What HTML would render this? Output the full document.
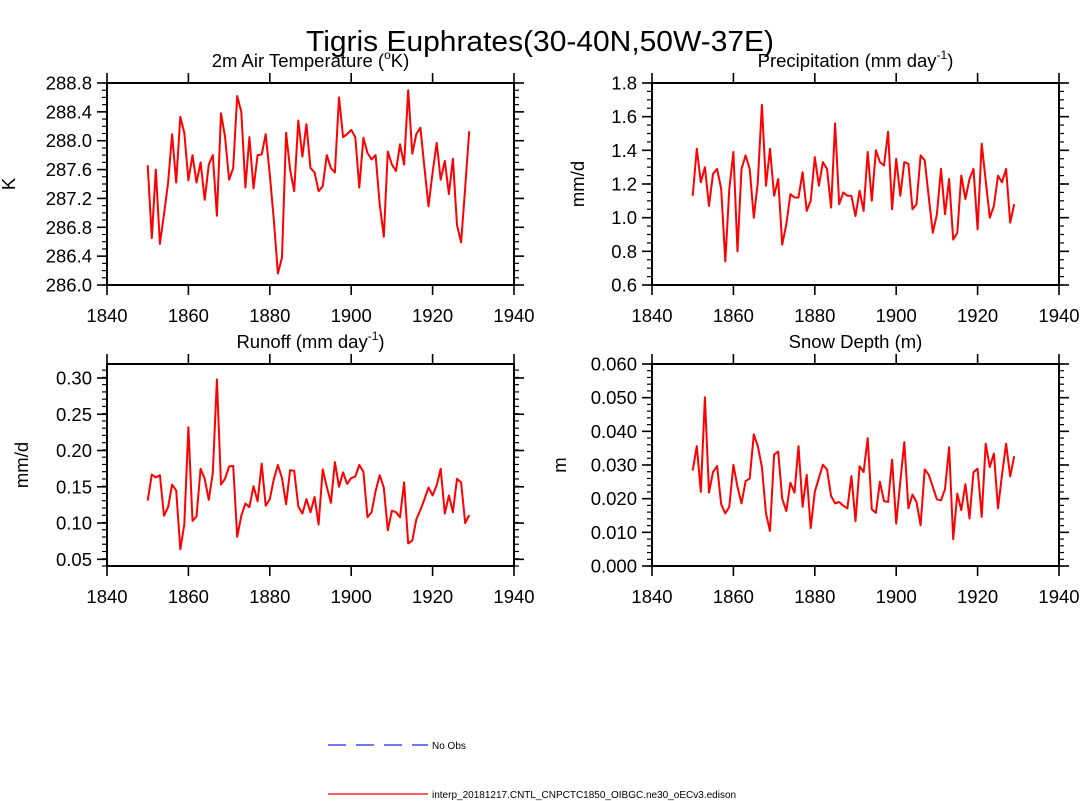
<!DOCTYPE html>
<html><head><meta charset="utf-8"><style>
body{margin:0;background:#fff;}
svg{display:block;font-family:"Liberation Sans",Arial,sans-serif;}
</style></head><body>
<svg id="chart" width="1080" height="801" viewBox="0 0 1080 801">
<text x="540" y="51" font-size="29" text-anchor="middle" textLength="468" lengthAdjust="spacingAndGlyphs">Tigris Euphrates(30-40N,50W-37E)</text>
<g>
<line x1="328" y1="745" x2="428" y2="745" stroke="#2020ff" stroke-width="1.2" stroke-dasharray="18,10"/>
<text x="432" y="749" font-size="10">No Obs</text>
<line x1="328" y1="794" x2="428" y2="794" stroke="#ff0000" stroke-width="1.2"/>
<text x="432" y="798" font-size="10">interp_20181217.CNTL_CNPCTC1850_OIBGC.ne30_oECv3.edison</text>
</g>
</svg>
<script>
const startYear = 1850;
const xTicks = [1840,1860,1880,1900,1920,1940];
const tempVals = [287.66,286.65,287.6,286.57,286.98,287.42,288.09,287.42,288.33,288.11,287.45,287.8,287.42,287.7,287.18,287.67,287.8,286.96,288.38,288.06,287.46,287.62,288.62,288.4,287.35,288.05,287.34,287.8,287.81,288.09,287.53,286.89,286.16,286.38,288.11,287.6,287.3,288.28,287.78,288.23,287.62,287.56,287.3,287.37,287.8,287.62,287.56,288.6,288.05,288.09,288.15,288.05,287.35,288.04,287.83,287.74,287.8,287.12,286.67,287.85,287.67,287.58,287.95,287.67,288.7,287.82,288.09,288.18,287.62,287.09,287.56,287.97,287.46,287.72,287.26,287.75,286.83,286.59,287.35,288.13];
const precVals = [1.13,1.41,1.21,1.3,1.07,1.26,1.29,1.17,0.74,1.17,1.39,0.8,1.29,1.37,1.29,1.0,1.21,1.67,1.19,1.41,1.13,1.23,0.84,0.96,1.14,1.12,1.12,1.27,1.04,1.1,1.36,1.19,1.33,1.29,1.06,1.56,1.08,1.15,1.13,1.13,1.01,1.16,1.04,1.39,1.1,1.4,1.33,1.31,1.51,1.05,1.35,1.13,1.33,1.32,1.05,1.08,1.37,1.34,1.12,0.91,1.02,1.29,1.02,1.23,0.87,0.91,1.25,1.11,1.23,1.29,0.93,1.44,1.22,1.0,1.07,1.25,1.21,1.29,0.97,1.08];
const runoffVals = [0.131,0.167,0.163,0.166,0.11,0.122,0.153,0.145,0.064,0.098,0.232,0.103,0.109,0.175,0.161,0.132,0.169,0.298,0.153,0.161,0.178,0.179,0.081,0.11,0.127,0.122,0.151,0.13,0.182,0.124,0.133,0.161,0.18,0.162,0.126,0.173,0.172,0.123,0.113,0.133,0.115,0.136,0.098,0.174,0.15,0.128,0.184,0.15,0.17,0.154,0.162,0.164,0.18,0.171,0.108,0.115,0.144,0.166,0.149,0.09,0.117,0.115,0.108,0.156,0.072,0.076,0.105,0.118,0.133,0.149,0.138,0.152,0.175,0.113,0.138,0.115,0.161,0.156,0.1,0.111];
const snowVals = [0.0284,0.0356,0.022,0.0501,0.0218,0.0279,0.0297,0.0183,0.0156,0.0176,0.0301,0.0235,0.0186,0.0252,0.026,0.0391,0.0356,0.0294,0.0156,0.0104,0.0331,0.034,0.02,0.0163,0.0247,0.0218,0.0356,0.0176,0.0271,0.0113,0.022,0.0262,0.0301,0.0287,0.0208,0.0186,0.019,0.0179,0.0171,0.0267,0.0133,0.0296,0.0279,0.038,0.0168,0.0158,0.025,0.0193,0.019,0.0316,0.0126,0.025,0.0368,0.0171,0.0212,0.019,0.0121,0.0287,0.0271,0.0235,0.0198,0.0195,0.0228,0.0353,0.008,0.0215,0.0166,0.0243,0.0141,0.0279,0.0289,0.0146,0.0363,0.0294,0.0334,0.0171,0.0271,0.0363,0.0266,0.0326];
const tempTicks = ["286.0","286.4","286.8","287.2","287.6","288.0","288.4","288.8"];
const precTicks = ["0.6","0.8","1.0","1.2","1.4","1.6","1.8"];
const runoffTicks = ["0.05","0.10","0.15","0.20","0.25","0.30"];
const snowTicks = ["0.000","0.010","0.020","0.030","0.040","0.050","0.060"];

const NS="http://www.w3.org/2000/svg";
const svg=document.getElementById('chart');
function mk(tag,attrs,parent){const e=document.createElementNS(NS,tag);for(const k in attrs)e.setAttribute(k,attrs[k]);(parent||svg).appendChild(e);return e;}

function panel(cfg){
  const g=mk('g',{});
  
  
  const L=cfg.x0,R=cfg.x0+407,T=cfg.y0,B=cfg.y0+202;
  const xs=v=>L+(v-1840)/100*(R-L);
  const ys=v=>B-(v-cfg.ymin)/(cfg.ymax-cfg.ymin)*(B-T);
  cfg.ticks.forEach(t=>{
    const v=parseFloat(t),y=ys(v);
    mk('line',{x1:L-10,y1:y,x2:L,y2:y,stroke:'#000','stroke-width':1.6},g);
    mk('line',{x1:R,y1:y,x2:R+10,y2:y,stroke:'#000','stroke-width':1.6},g);
    const tl=mk('text',{x:L-15,y:y+6.5,'font-size':18.5,'text-anchor':'end'},g);
    tl.textContent=t;
    
    
  });
  const mn=cfg.minor;
  for(let v=cfg.ymin;v<=cfg.ymax+1e-9;v+=mn){
    const y=ys(v);
    mk('line',{x1:L-5,y1:y,x2:L,y2:y,stroke:'#000','stroke-width':1.2},g);
    mk('line',{x1:R,y1:y,x2:R+5,y2:y,stroke:'#000','stroke-width':1.2},g);
  }
  xTicks.forEach(t=>{
    const x=xs(t);
    mk('line',{x1:x,y1:B,x2:x,y2:B+10,stroke:'#000','stroke-width':1.6},g);
    mk('line',{x1:x,y1:T-10,x2:x,y2:T,stroke:'#000','stroke-width':1.6},g);
    const tl=mk('text',{x:x,y:B+37,'font-size':18.5,'text-anchor':'middle'},g);
    tl.textContent=t;
    
    
  });
  const fr=mk('rect',{x:L,y:T,width:R-L,height:B-T,fill:'none',stroke:'#000','stroke-width':2},g);
  
  
  const pts=cfg.vals.map((v,i)=>xs(startYear+i).toFixed(1)+','+ys(v).toFixed(1)).join(' ');
  const pl=mk('polyline',{points:pts,fill:'none',stroke:'#ff0000','stroke-width':2,'stroke-linejoin':'round'},g);
  
  
  const ti=mk('text',{x:(L+R)/2,y:T-16,'font-size':18.5,'text-anchor':'middle'},g);
  ti.innerHTML=cfg.title;
  
  
  const yl=mk('text',{x:0,y:0,'font-size':18.5,'text-anchor':'middle',transform:`translate(${cfg.ylx},${(T+B)/2}) rotate(-90)`},g);
  yl.textContent=cfg.ylabel;
  
  
}
panel({name:'panel-air-temperature',x0:107,y0:83,ymin:286.0,ymax:288.8,minor:0.1,ticks:tempTicks,vals:tempVals,ylabel:'K',ylx:15,
  title:'2m Air Temperature (<tspan font-size="12" dy="-8">o</tspan><tspan dy="8">K)</tspan>'});
panel({name:'panel-precipitation',x0:652,y0:83,ymin:0.6,ymax:1.8,minor:0.05,ticks:precTicks,vals:precVals,ylabel:'mm/d',ylx:584,
  title:'Precipitation (mm day<tspan font-size="12" dy="-8">-1</tspan><tspan dy="8">)</tspan>'});
panel({name:'panel-runoff',x0:107,y0:364,ymin:0.0408,ymax:0.3193,minor:0.01,ticks:runoffTicks,vals:runoffVals,ylabel:'mm/d',ylx:28,
  title:'Runoff (mm day<tspan font-size="12" dy="-8">-1</tspan><tspan dy="8">)</tspan>'});
panel({name:'panel-snow-depth',x0:652,y0:364,ymin:0,ymax:0.06,minor:0.002,ticks:snowTicks,vals:snowVals,ylabel:'m',ylx:566,
  title:'Snow Depth (m)'});
</script>
</body></html>
